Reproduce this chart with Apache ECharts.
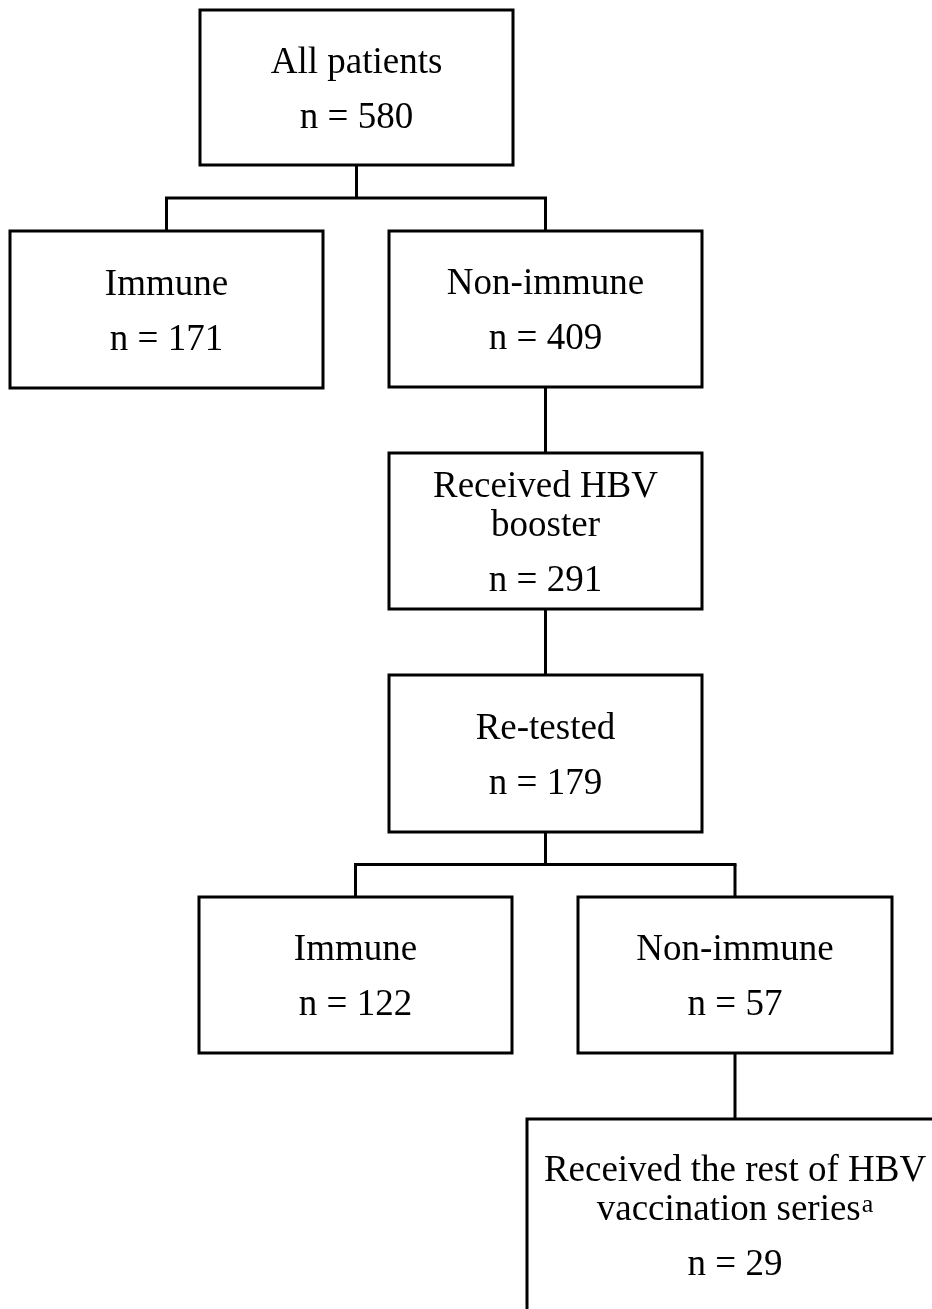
<!DOCTYPE html>
<html>
<head>
<meta charset="utf-8">
<script src="https://cdn.jsdelivr.net/npm/echarts@6/dist/echarts.min.js"></script>
<style>
html,body{margin:0;padding:0;background:#fff;}
#chart{width:932px;height:1309px;}
</style>
</head>
<body>
<div id="chart"></div>
<script>
// ---- data ----
const nodeLabels = [
  'All patients',
  'Immune',
  'Non-immune',
  'Received HBV\nbooster',
  'Re-tested',
  'Immune',
  'Non-immune',
  'Received the rest of HBV\nvaccination series{sup|a}'
];
const nodeCounts = [580, 171, 409, 291, 179, 122, 57, 29];
const nodeParents = [-1, 0, 0, 2, 3, 4, 4, 6];

// ---- layout (axis units = pixels of the page): [left, top, right, bottom] ----
const nodeBoxes = [
  [200, 10, 513, 165],
  [10, 231, 323, 388],
  [389, 231, 702, 387],
  [389, 453, 702, 609],
  [389, 675, 702, 832],
  [199, 897, 512, 1053],
  [578, 897, 892, 1053],
  [527, 1119, 943, 1312]
];

const FONT_FAMILY = '"Liberation Serif", "Times New Roman", Times, serif';
const FONT_SIZE = 37;
const LABEL_GAP = 39;   // spacing between label lines
const COUNT_GAP = 55;   // spacing from last label line to count line
const TEXT_SHIFT = 3;   // small downward nudge of text block
const STROKE = '#000';
const LINE_W = 3;

const chart = echarts.init(document.getElementById('chart'), null, { renderer: 'canvas' });

function renderItem(params, api) {
  const i = api.value(0);
  const b = nodeBoxes[i];
  const p0 = api.coord([b[0], b[1]]);
  const p1 = api.coord([b[2], b[3]]);
  const cx = (p0[0] + p1[0]) / 2;
  const cy = (p0[1] + p1[1]) / 2;
  const lineStyle = { stroke: STROKE, lineWidth: LINE_W, fill: null };
  const conns = [];

  // connectors to children
  const children = [];
  nodeParents.forEach((par, j) => { if (par === i) children.push(j); });
  if (children.length) {
    const cInfo = children.map(j => {
      const cb = nodeBoxes[j];
      const a = api.coord([cb[0], cb[1]]);
      const c = api.coord([cb[2], cb[3]]);
      return { x: (a[0] + c[0]) / 2, top: a[1] };
    });
    if (children.length === 1) {
      conns.push({ type: 'line', shape: { x1: cx, y1: p1[1], x2: cInfo[0].x, y2: cInfo[0].top }, style: lineStyle });
    } else {
      const minTop = Math.min.apply(null, cInfo.map(c => c.top));
      const branchY = (p1[1] + minTop) / 2;
      const xs = cInfo.map(c => c.x);
      conns.push({ type: 'line', shape: { x1: cx, y1: p1[1], x2: cx, y2: branchY }, style: lineStyle });
      conns.push({ type: 'line', shape: { x1: Math.min.apply(null, xs) - LINE_W / 2, y1: branchY, x2: Math.max.apply(null, xs) + LINE_W / 2, y2: branchY }, style: lineStyle });
      cInfo.forEach(c => conns.push({ type: 'line', shape: { x1: c.x, y1: branchY, x2: c.x, y2: c.top }, style: lineStyle }));
    }
  }

  // text lines
  const lines = nodeLabels[i].split('\n').concat(['n = ' + nodeCounts[i]]);
  const k = lines.length - 1;
  const span = (k - 1) * LABEL_GAP + COUNT_GAP;
  const firstMid = cy - span / 2 + TEXT_SHIFT;
  const texts = lines.map((t, idx) => {
    const y = idx < k ? firstMid + idx * LABEL_GAP : firstMid + (k - 1) * LABEL_GAP + COUNT_GAP;
    return {
      type: 'text',
      x: cx,
      y: y,
      style: {
        text: t,
        fill: '#000',
        fontSize: FONT_SIZE,
        fontFamily: FONT_FAMILY,
        align: 'center',
        verticalAlign: 'middle',
        rich: {
          sup: { fontSize: 26, fontFamily: FONT_FAMILY, fill: '#000', verticalAlign: 'top', padding: [0, 0, 0, 1] }
        }
      }
    };
  });

  const rect = {
    type: 'rect',
    shape: { x: p0[0], y: p0[1], width: p1[0] - p0[0], height: p1[1] - p0[1] },
    style: { fill: '#fff', stroke: STROKE, lineWidth: LINE_W }
  };

  return {
    type: 'group',
    children: conns.concat([rect]).concat(texts)
  };
}

chart.setOption({
  animation: false,
  backgroundColor: '#fff',
  grid: { left: 0, right: 0, top: 0, bottom: 0 },
  xAxis: { type: 'value', min: 0, max: 932, show: false },
  yAxis: { type: 'value', min: 0, max: 1309, inverse: true, show: false },
  series: [{
    type: 'custom',
    coordinateSystem: 'cartesian2d',
    clip: false,
    renderItem: renderItem,
    encode: { x: 0, y: 0 },
    data: nodeCounts.map((c, i) => [i, c])
  }]
});
</script>
</body>
</html>
